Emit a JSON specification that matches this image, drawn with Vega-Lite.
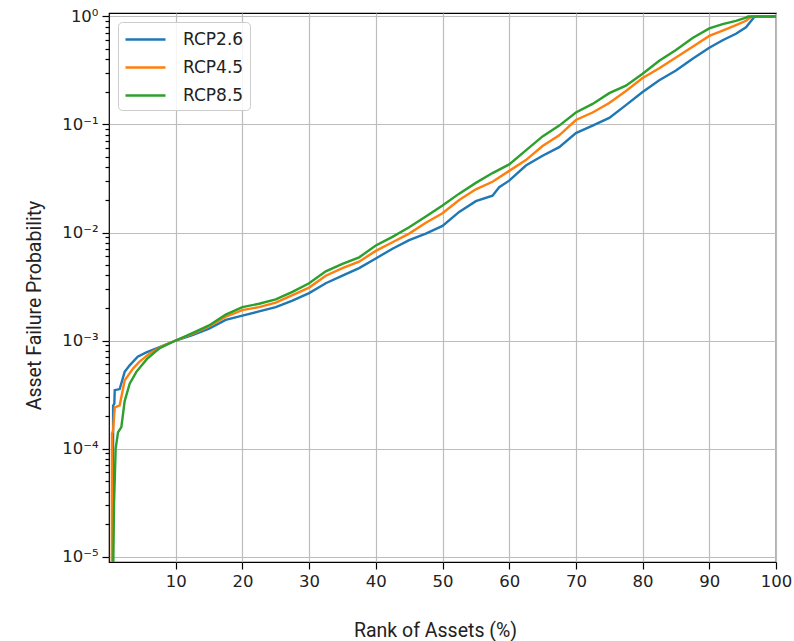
{
  "$schema": "https://vega.github.io/schema/vega-lite/v6.json",
  "autosize": {"type": "none"},
  "padding": {"left": 109, "top": 13, "right": 18, "bottom": 79},
  "width": 667,
  "height": 549,
  "background": "white",
  "config": {
    "view": {"stroke": "#000000", "strokeWidth": 1.2},
    "font": "DejaVu Sans"
  },
  "data": {
    "values": [
      {"r": 0.55, "p": 5e-6, "s": "RCP2.6"},
      {"r": 0.6, "p": 5e-5, "s": "RCP2.6"},
      {"r": 0.62, "p": 2.5e-4, "s": "RCP2.6"},
      {"r": 0.8, "p": 2.6e-4, "s": "RCP2.6"},
      {"r": 0.86, "p": 3.47e-4, "s": "RCP2.6"},
      {"r": 1.6, "p": 3.55e-4, "s": "RCP2.6"},
      {"r": 2.35, "p": 5.13e-4, "s": "RCP2.6"},
      {"r": 3.1, "p": 5.89e-4, "s": "RCP2.6"},
      {"r": 4.3, "p": 7.08e-4, "s": "RCP2.6"},
      {"r": 5.6, "p": 7.76e-4, "s": "RCP2.6"},
      {"r": 7.6, "p": 8.71e-4, "s": "RCP2.6"},
      {"r": 10, "p": 1.0e-3, "s": "RCP2.6"},
      {"r": 12.5, "p": 1.12e-3, "s": "RCP2.6"},
      {"r": 15, "p": 1.29e-3, "s": "RCP2.6"},
      {"r": 17.5, "p": 1.55e-3, "s": "RCP2.6"},
      {"r": 20, "p": 1.70e-3, "s": "RCP2.6"},
      {"r": 22.5, "p": 1.86e-3, "s": "RCP2.6"},
      {"r": 25, "p": 2.04e-3, "s": "RCP2.6"},
      {"r": 27.5, "p": 2.34e-3, "s": "RCP2.6"},
      {"r": 30, "p": 2.75e-3, "s": "RCP2.6"},
      {"r": 32.5, "p": 3.39e-3, "s": "RCP2.6"},
      {"r": 35, "p": 3.98e-3, "s": "RCP2.6"},
      {"r": 37.5, "p": 4.68e-3, "s": "RCP2.6"},
      {"r": 40, "p": 5.75e-3, "s": "RCP2.6"},
      {"r": 42.5, "p": 7.08e-3, "s": "RCP2.6"},
      {"r": 45, "p": 8.51e-3, "s": "RCP2.6"},
      {"r": 47.5, "p": 9.77e-3, "s": "RCP2.6"},
      {"r": 50, "p": 1.15e-2, "s": "RCP2.6"},
      {"r": 52.5, "p": 1.55e-2, "s": "RCP2.6"},
      {"r": 55, "p": 1.95e-2, "s": "RCP2.6"},
      {"r": 57.5, "p": 2.19e-2, "s": "RCP2.6"},
      {"r": 58.5, "p": 2.63e-2, "s": "RCP2.6"},
      {"r": 60, "p": 3.02e-2, "s": "RCP2.6"},
      {"r": 62.5, "p": 4.17e-2, "s": "RCP2.6"},
      {"r": 65, "p": 5.13e-2, "s": "RCP2.6"},
      {"r": 67.5, "p": 6.17e-2, "s": "RCP2.6"},
      {"r": 70, "p": 8.32e-2, "s": "RCP2.6"},
      {"r": 72.5, "p": 9.77e-2, "s": "RCP2.6"},
      {"r": 75, "p": 0.115, "s": "RCP2.6"},
      {"r": 77.5, "p": 0.151, "s": "RCP2.6"},
      {"r": 80, "p": 0.200, "s": "RCP2.6"},
      {"r": 82.5, "p": 0.257, "s": "RCP2.6"},
      {"r": 85, "p": 0.316, "s": "RCP2.6"},
      {"r": 87.5, "p": 0.407, "s": "RCP2.6"},
      {"r": 90, "p": 0.513, "s": "RCP2.6"},
      {"r": 92, "p": 0.603, "s": "RCP2.6"},
      {"r": 94, "p": 0.692, "s": "RCP2.6"},
      {"r": 95.5, "p": 0.794, "s": "RCP2.6"},
      {"r": 96.8, "p": 1.0, "s": "RCP2.6"},
      {"r": 100, "p": 1.0, "s": "RCP2.6"},

      {"r": 0.42, "p": 5e-6, "s": "RCP4.5"},
      {"r": 0.45, "p": 1.38e-4, "s": "RCP4.5"},
      {"r": 0.6, "p": 1.45e-4, "s": "RCP4.5"},
      {"r": 0.86, "p": 2.4e-4, "s": "RCP4.5"},
      {"r": 1.6, "p": 2.51e-4, "s": "RCP4.5"},
      {"r": 2.35, "p": 4.27e-4, "s": "RCP4.5"},
      {"r": 3.6, "p": 5.5e-4, "s": "RCP4.5"},
      {"r": 4.5, "p": 6.3e-4, "s": "RCP4.5"},
      {"r": 6.1, "p": 7.6e-4, "s": "RCP4.5"},
      {"r": 8, "p": 8.9e-4, "s": "RCP4.5"},
      {"r": 10, "p": 1.0e-3, "s": "RCP4.5"},
      {"r": 12.5, "p": 1.15e-3, "s": "RCP4.5"},
      {"r": 15, "p": 1.35e-3, "s": "RCP4.5"},
      {"r": 17.5, "p": 1.66e-3, "s": "RCP4.5"},
      {"r": 20, "p": 1.91e-3, "s": "RCP4.5"},
      {"r": 22.5, "p": 2.04e-3, "s": "RCP4.5"},
      {"r": 25, "p": 2.24e-3, "s": "RCP4.5"},
      {"r": 27.5, "p": 2.63e-3, "s": "RCP4.5"},
      {"r": 30, "p": 3.09e-3, "s": "RCP4.5"},
      {"r": 32.5, "p": 3.98e-3, "s": "RCP4.5"},
      {"r": 35, "p": 4.68e-3, "s": "RCP4.5"},
      {"r": 37.5, "p": 5.37e-3, "s": "RCP4.5"},
      {"r": 40, "p": 6.76e-3, "s": "RCP4.5"},
      {"r": 42.5, "p": 8.13e-3, "s": "RCP4.5"},
      {"r": 45, "p": 9.77e-3, "s": "RCP4.5"},
      {"r": 47.5, "p": 1.23e-2, "s": "RCP4.5"},
      {"r": 50, "p": 1.51e-2, "s": "RCP4.5"},
      {"r": 52.5, "p": 2.00e-2, "s": "RCP4.5"},
      {"r": 55, "p": 2.51e-2, "s": "RCP4.5"},
      {"r": 57.5, "p": 2.95e-2, "s": "RCP4.5"},
      {"r": 60, "p": 3.72e-2, "s": "RCP4.5"},
      {"r": 62.5, "p": 4.68e-2, "s": "RCP4.5"},
      {"r": 65, "p": 6.31e-2, "s": "RCP4.5"},
      {"r": 67.5, "p": 7.94e-2, "s": "RCP4.5"},
      {"r": 70, "p": 0.110, "s": "RCP4.5"},
      {"r": 72.5, "p": 0.129, "s": "RCP4.5"},
      {"r": 75, "p": 0.158, "s": "RCP4.5"},
      {"r": 77.5, "p": 0.204, "s": "RCP4.5"},
      {"r": 80, "p": 0.269, "s": "RCP4.5"},
      {"r": 82.5, "p": 0.331, "s": "RCP4.5"},
      {"r": 85, "p": 0.417, "s": "RCP4.5"},
      {"r": 87.5, "p": 0.525, "s": "RCP4.5"},
      {"r": 90, "p": 0.661, "s": "RCP4.5"},
      {"r": 92, "p": 0.741, "s": "RCP4.5"},
      {"r": 94, "p": 0.832, "s": "RCP4.5"},
      {"r": 95.5, "p": 0.912, "s": "RCP4.5"},
      {"r": 96.3, "p": 1.0, "s": "RCP4.5"},
      {"r": 100, "p": 1.0, "s": "RCP4.5"},

      {"r": 0.6, "p": 5e-6, "s": "RCP8.5"},
      {"r": 0.75, "p": 3e-5, "s": "RCP8.5"},
      {"r": 1.0, "p": 1.0e-4, "s": "RCP8.5"},
      {"r": 1.35, "p": 1.41e-4, "s": "RCP8.5"},
      {"r": 1.85, "p": 1.58e-4, "s": "RCP8.5"},
      {"r": 2.35, "p": 2.75e-4, "s": "RCP8.5"},
      {"r": 3.1, "p": 3.98e-4, "s": "RCP8.5"},
      {"r": 4.1, "p": 5.13e-4, "s": "RCP8.5"},
      {"r": 5.7, "p": 6.76e-4, "s": "RCP8.5"},
      {"r": 7.6, "p": 8.5e-4, "s": "RCP8.5"},
      {"r": 10, "p": 1.0e-3, "s": "RCP8.5"},
      {"r": 12.5, "p": 1.17e-3, "s": "RCP8.5"},
      {"r": 15, "p": 1.38e-3, "s": "RCP8.5"},
      {"r": 17.5, "p": 1.74e-3, "s": "RCP8.5"},
      {"r": 20, "p": 2.04e-3, "s": "RCP8.5"},
      {"r": 22.5, "p": 2.19e-3, "s": "RCP8.5"},
      {"r": 25, "p": 2.40e-3, "s": "RCP8.5"},
      {"r": 27.5, "p": 2.82e-3, "s": "RCP8.5"},
      {"r": 30, "p": 3.39e-3, "s": "RCP8.5"},
      {"r": 32.5, "p": 4.37e-3, "s": "RCP8.5"},
      {"r": 35, "p": 5.13e-3, "s": "RCP8.5"},
      {"r": 37.5, "p": 5.89e-3, "s": "RCP8.5"},
      {"r": 40, "p": 7.59e-3, "s": "RCP8.5"},
      {"r": 42.5, "p": 9.12e-3, "s": "RCP8.5"},
      {"r": 45, "p": 1.12e-2, "s": "RCP8.5"},
      {"r": 47.5, "p": 1.41e-2, "s": "RCP8.5"},
      {"r": 50, "p": 1.78e-2, "s": "RCP8.5"},
      {"r": 52.5, "p": 2.29e-2, "s": "RCP8.5"},
      {"r": 55, "p": 2.88e-2, "s": "RCP8.5"},
      {"r": 57.5, "p": 3.55e-2, "s": "RCP8.5"},
      {"r": 60, "p": 4.27e-2, "s": "RCP8.5"},
      {"r": 62.5, "p": 5.75e-2, "s": "RCP8.5"},
      {"r": 65, "p": 7.76e-2, "s": "RCP8.5"},
      {"r": 67.5, "p": 9.77e-2, "s": "RCP8.5"},
      {"r": 70, "p": 0.129, "s": "RCP8.5"},
      {"r": 72.5, "p": 0.155, "s": "RCP8.5"},
      {"r": 75, "p": 0.195, "s": "RCP8.5"},
      {"r": 77.5, "p": 0.229, "s": "RCP8.5"},
      {"r": 80, "p": 0.295, "s": "RCP8.5"},
      {"r": 82.5, "p": 0.389, "s": "RCP8.5"},
      {"r": 85, "p": 0.490, "s": "RCP8.5"},
      {"r": 87.5, "p": 0.631, "s": "RCP8.5"},
      {"r": 90, "p": 0.776, "s": "RCP8.5"},
      {"r": 92, "p": 0.851, "s": "RCP8.5"},
      {"r": 94, "p": 0.912, "s": "RCP8.5"},
      {"r": 95.5, "p": 0.977, "s": "RCP8.5"},
      {"r": 95.8, "p": 1.0, "s": "RCP8.5"},
      {"r": 100, "p": 1.0, "s": "RCP8.5"}
    ]
  },
  "mark": {"type": "line", "clip": true, "strokeWidth": 2.4},
  "encoding": {
    "x": {
      "field": "r",
      "type": "quantitative",
      "scale": {"domain": [0, 100], "nice": false, "zero": false},
      "axis": {
        "values": [10, 20, 30, 40, 50, 60, 70, 80, 90, 100],
        "title": "Rank of Assets (%)",
        "titleFont": "Roboto",
        "titleFontSize": 19.5,
        "titleFontWeight": "normal",
        "titleColor": "#222222",
        "titleX": 326,
        "titleY": 74,
        "titleAnchor": null,
        "titleAlign": "center",
        "titleBaseline": "alphabetic",
        "labelFont": "DejaVu Sans",
        "labelFontSize": 16.5,
        "labelColor": "#222222",
        "labelPadding": 4,
        "tickSize": 7,
        "tickColor": "#000000",
        "tickWidth": 1.2,
        "domain": false,
        "grid": true,
        "gridColor": "#bdbdbd",
        "gridWidth": 1.2,
        "labelFlush": false
      }
    },
    "y": {
      "field": "p",
      "type": "quantitative",
      "scale": {"type": "log", "domain": [8.9e-6, 1.077], "nice": false},
      "axis": {
        "values": [0.00001, 0.00002, 0.00003, 0.00004, 0.00005, 0.00006, 0.00007, 0.00008, 0.00009,
                   0.0001, 0.0002, 0.0003, 0.0004, 0.0005, 0.0006, 0.0007, 0.0008, 0.0009,
                   0.001, 0.002, 0.003, 0.004, 0.005, 0.006, 0.007, 0.008, 0.009,
                   0.01, 0.02, 0.03, 0.04, 0.05, 0.06, 0.07, 0.08, 0.09,
                   0.1, 0.2, 0.3, 0.4, 0.5, 0.6, 0.7, 0.8, 0.9, 1],
        "labelExpr": "datum.value === 1 ? '10⁰' : datum.value === 0.1 ? '10⁻¹' : datum.value === 0.01 ? '10⁻²' : datum.value === 0.001 ? '10⁻³' : datum.value === 0.0001 ? '10⁻⁴' : datum.value === 0.00001 ? '10⁻⁵' : ''",
        "title": "Asset Failure Probability",
        "titleFont": "Roboto",
        "titleFontSize": 19.5,
        "titleFontWeight": "normal",
        "titleColor": "#222222",
        "titleX": -69,
        "titleY": 292,
        "titleAnchor": null,
        "titleAlign": "center",
        "titleBaseline": "alphabetic",
        "labelFont": "DejaVu Sans",
        "labelFontSize": 16.5,
        "labelColor": "#222222",
        "labelPadding": 4,
        "labelOverlap": false,
        "labelFlush": false,
        "tickColor": "#000000",
        "tickWidth": 1.2,
        "tickSize": {"condition": {"test": "indexof([1, 0.1, 0.01, 0.001, 0.0001, 0.00001], datum.value) >= 0", "value": 7}, "value": 4},
        "domain": false,
        "grid": true,
        "gridColor": "#bdbdbd",
        "gridWidth": 1.2,
        "gridOpacity": {"condition": {"test": "indexof([1, 0.1, 0.01, 0.001, 0.0001, 0.00001], datum.value) >= 0", "value": 1}, "value": 0}
      }
    },
    "color": {
      "field": "s",
      "type": "nominal",
      "scale": {"domain": ["RCP2.6", "RCP4.5", "RCP8.5"], "range": ["#1f77b4", "#ff7f0e", "#2ca02c"]},
      "legend": {
        "title": null,
        "orient": "top-left",
        "offset": 9,
        "symbolType": "M-1,0H3",
        "symbolSize": 400,
        "symbolStrokeWidth": 2.4,
        "labelFont": "DejaVu Sans",
        "labelFontSize": 17,
        "labelColor": "#222222",
        "labelOffset": 36,
        "padding": 6,
        "rowPadding": 8,
        "fillColor": "rgba(255,255,255,0.85)",
        "strokeColor": "#cccccc",
        "cornerRadius": 4
      }
    }
  }
}
